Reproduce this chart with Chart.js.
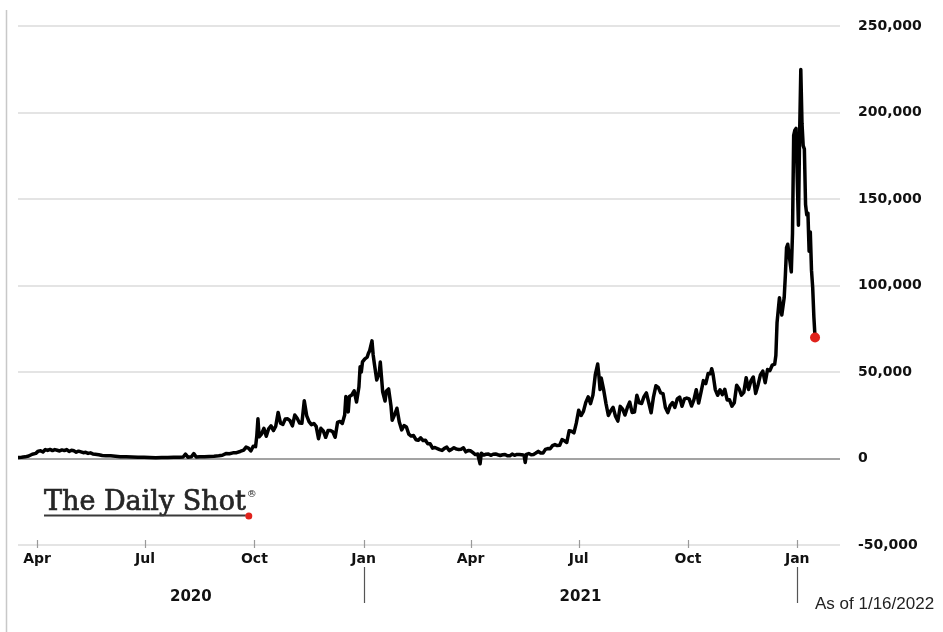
<!DOCTYPE html>
<html><head><meta charset="utf-8">
<script src="https://cdn.jsdelivr.net/npm/chart.js@4.4.1/dist/chart.umd.min.js"></script>
<style>html,body{margin:0;padding:0;background:#fff}#wrap{position:relative;width:943px;height:632px}</style>
</head><body><div id="wrap"><canvas id="c" width="943" height="632"></canvas></div>
<script>
// ---- data (daily new cases, UK) ----
const dates = [
'2020-03-16','2020-03-19','2020-03-22','2020-03-25','2020-03-28','2020-03-31','2020-04-02','2020-04-04','2020-04-06','2020-04-08',
'2020-04-10','2020-04-12','2020-04-14','2020-04-16','2020-04-18','2020-04-20','2020-04-22','2020-04-24','2020-04-26','2020-04-28',
'2020-04-30','2020-05-02','2020-05-04','2020-05-06','2020-05-08','2020-05-10','2020-05-12','2020-05-14','2020-05-16','2020-05-18',
'2020-05-20','2020-05-23','2020-05-26','2020-05-29','2020-06-02','2020-06-06','2020-06-10','2020-06-15','2020-06-20','2020-06-25',
'2020-06-30','2020-07-05','2020-07-10','2020-07-15','2020-07-20','2020-07-25','2020-07-30','2020-08-02','2020-08-04','2020-08-06',
'2020-08-09','2020-08-11','2020-08-13','2020-08-16','2020-08-20','2020-08-24','2020-08-28','2020-09-01','2020-09-04','2020-09-07',
'2020-09-10','2020-09-13','2020-09-16','2020-09-19','2020-09-22','2020-09-24','2020-09-26','2020-09-28','2020-09-30','2020-10-02',
'2020-10-03','2020-10-04','2020-10-05','2020-10-07','2020-10-09','2020-10-11','2020-10-13','2020-10-15','2020-10-17','2020-10-19',
'2020-10-21','2020-10-23','2020-10-25','2020-10-27','2020-10-29','2020-10-31','2020-11-02','2020-11-04','2020-11-06','2020-11-08',
'2020-11-10','2020-11-12','2020-11-14','2020-11-16','2020-11-18','2020-11-20','2020-11-22','2020-11-24','2020-11-26','2020-11-28',
'2020-11-30','2020-12-02','2020-12-04','2020-12-06','2020-12-08','2020-12-10','2020-12-12','2020-12-14','2020-12-16','2020-12-17',
'2020-12-19','2020-12-20','2020-12-22','2020-12-24','2020-12-26','2020-12-28','2020-12-29','2020-12-30','2020-12-31','2021-01-02',
'2021-01-04','2021-01-05','2021-01-06','2021-01-08','2021-01-09','2021-01-10','2021-01-12','2021-01-13','2021-01-14','2021-01-15',
'2021-01-17','2021-01-19','2021-01-20','2021-01-22','2021-01-24','2021-01-25','2021-01-27','2021-01-29','2021-01-31','2021-02-02',
'2021-02-04','2021-02-06','2021-02-08','2021-02-10','2021-02-12','2021-02-14','2021-02-16','2021-02-18','2021-02-20','2021-02-22',
'2021-02-24','2021-02-26','2021-02-28','2021-03-02','2021-03-04','2021-03-06','2021-03-08','2021-03-10','2021-03-12','2021-03-14',
'2021-03-16','2021-03-18','2021-03-20','2021-03-22','2021-03-24','2021-03-26','2021-03-28','2021-03-30','2021-04-01','2021-04-03',
'2021-04-05','2021-04-07','2021-04-09','2021-04-10','2021-04-12','2021-04-14','2021-04-16','2021-04-18','2021-04-20','2021-04-22',
'2021-04-24','2021-04-26','2021-04-28','2021-04-30','2021-05-02','2021-05-04','2021-05-06','2021-05-08','2021-05-10','2021-05-12',
'2021-05-14','2021-05-16','2021-05-17','2021-05-18','2021-05-20','2021-05-22','2021-05-24','2021-05-26','2021-05-28','2021-05-30',
'2021-06-01','2021-06-03','2021-06-05','2021-06-07','2021-06-09','2021-06-11','2021-06-13','2021-06-15','2021-06-17','2021-06-19',
'2021-06-21','2021-06-23','2021-06-25','2021-06-27','2021-06-29','2021-07-01','2021-07-03','2021-07-05','2021-07-07','2021-07-09',
'2021-07-11','2021-07-13','2021-07-15','2021-07-17','2021-07-18','2021-07-19','2021-07-20','2021-07-22','2021-07-24','2021-07-26',
'2021-07-28','2021-07-30','2021-08-01','2021-08-03','2021-08-05','2021-08-07','2021-08-09','2021-08-11','2021-08-13','2021-08-15',
'2021-08-17','2021-08-19','2021-08-21','2021-08-23','2021-08-25','2021-08-27','2021-08-29','2021-08-31','2021-09-02','2021-09-04',
'2021-09-06','2021-09-08','2021-09-10','2021-09-12','2021-09-14','2021-09-16','2021-09-18','2021-09-20','2021-09-22','2021-09-24',
'2021-09-26','2021-09-28','2021-09-30','2021-10-02','2021-10-04','2021-10-06','2021-10-08','2021-10-10','2021-10-12','2021-10-14',
'2021-10-16','2021-10-18','2021-10-20','2021-10-21','2021-10-22','2021-10-24','2021-10-26','2021-10-28','2021-10-30','2021-11-01',
'2021-11-03','2021-11-05','2021-11-07','2021-11-09','2021-11-11','2021-11-13','2021-11-15','2021-11-17','2021-11-19','2021-11-21',
'2021-11-23','2021-11-25','2021-11-27','2021-11-29','2021-12-01','2021-12-03','2021-12-05','2021-12-07','2021-12-09','2021-12-11',
'2021-12-13','2021-12-14','2021-12-15','2021-12-17','2021-12-19','2021-12-21','2021-12-22','2021-12-23','2021-12-24','2021-12-27',
'2021-12-28','2021-12-29','2021-12-30','2021-12-31','2022-01-01','2022-01-02','2022-01-03','2022-01-04','2022-01-05','2022-01-06',
'2022-01-07','2022-01-08','2022-01-09','2022-01-10','2022-01-11','2022-01-12','2022-01-13','2022-01-14','2022-01-15','2022-01-16'
];
const cases = [
600,700,1000,1500,2500,3000,4300,4500,3800,5200,
4700,5300,4600,5200,4800,4400,5000,4600,5200,4100,
4800,4500,3700,4300,3900,3400,3600,3000,3300,2700,
2500,2200,1800,1700,1600,1400,1100,1000,900,800,
700,600,500,600,600,700,800,900,2600,800,
1000,2900,900,1100,1000,1200,1300,1600,1900,2900,
2800,3300,3400,4100,4900,6600,6000,4400,7100,6900,
12900,23000,12600,14200,17500,12900,17200,18900,16200,18800,
26700,20500,19800,22900,23000,21900,18900,25200,23300,20600,
20400,33500,24900,21400,19600,20300,18600,11500,17500,16000,
12300,16200,16300,15500,12300,20900,21500,20300,25200,35900,
27000,35900,36800,39200,32700,41400,53100,50000,55900,57700,
58700,60900,62300,68100,59900,54900,45500,47500,48700,55800,
38600,33300,38900,40300,30400,22200,25300,29100,21100,16600,
19100,18300,14100,13000,13300,10900,10600,12000,10400,10600,
8500,8500,6000,6400,5800,5200,4700,5900,6600,4600,
5300,6300,5500,5300,5400,6200,3900,4700,4500,3400,
2300,2600,-3000,3100,2000,2500,2600,1900,2500,2700,
2200,1800,2200,2400,1600,1600,2600,1900,2400,2300,
2200,1900,-2300,2400,2900,2200,2400,3200,4200,3200,
3200,5300,5800,5700,7500,8100,7500,7700,11000,10300,
9300,16100,15800,14900,20500,27900,24900,27300,32500,35700,
31800,36700,48500,54700,48200,39900,46600,39900,31800,24900,
27700,29600,24500,21700,30200,28600,25200,29600,32700,26700,
26900,36600,32200,31900,35800,38000,32300,26500,35700,42100,
41200,38000,37600,29500,26600,30600,32400,29600,34500,35600,
30300,34500,35000,34500,30400,33900,39800,32100,38500,45100,
43400,49200,49100,52000,49300,39900,36600,39800,37000,40100,
33900,34000,30300,32300,42400,40400,36700,38300,46800,40000,
44900,47200,37700,42600,48400,50600,43900,51500,50900,54100,
54600,59600,78600,93000,83000,93000,106000,122000,124000,108000,
130000,187000,190000,191000,162000,135000,187000,225000,194000,181000,
179000,147000,141000,142000,120000,131000,109000,99000,82000,70000
];
const monthTicks = ['2020-04-01','2020-07-01','2020-10-01','2021-01-01','2021-04-01','2021-07-01','2021-10-01','2022-01-01'];
const monthLabels = ['Apr','Jul','Oct','Jan','Apr','Jul','Oct','Jan'];
const years = ['2020','2021'];
const yearBreaks = ['2021-01-01','2022-01-01'];
const yTicks = [-50000,0,50000,100000,150000,200000,250000];
const axisStart = '2020-03-16', axisEnd = '2022-02-06';
const asOfText = 'As of 1/16/2022';
const logoText = 'The Daily Shot';

const dayNum = s => { const [y,m,d] = s.split('-').map(Number); return Date.UTC(y, m-1, d) / 86400000; };
const points = dates.map((d,i) => ({x: dayNum(d), y: cases[i]}));

const FONT = "'DejaVu Sans', sans-serif";

const extras = {
  id: 'extras',
  afterDraw(chart) {
    const {ctx, chartArea, scales:{x}} = chart;
    ctx.save();
    // left frame line
    ctx.strokeStyle = '#c8c8c8'; ctx.lineWidth = 1.5;
    ctx.beginPath(); ctx.moveTo(6.5, 10); ctx.lineTo(6.5, 632); ctx.stroke();
    // x tick marks straddling the bottom line
    ctx.strokeStyle = '#9a9a9a'; ctx.lineWidth = 1.2;
    monthTicks.forEach(d => {
      const px = Math.round(x.getPixelForValue(dayNum(d))) + 0.5;
      ctx.beginPath(); ctx.moveTo(px, chartArea.bottom - 5); ctx.lineTo(px, chartArea.bottom + 3); ctx.stroke();
    });
    // year separators
    ctx.strokeStyle = '#555'; ctx.lineWidth = 1.2;
    yearBreaks.forEach(d => {
      const px = Math.round(x.getPixelForValue(dayNum(d))) + 0.5;
      ctx.beginPath(); ctx.moveTo(px, 567); ctx.lineTo(px, 603); ctx.stroke();
    });
    // year labels centred in visible span of each year
    ctx.fillStyle = '#111'; ctx.font = "bold 15px " + FONT; ctx.textAlign = 'center'; ctx.textBaseline = 'middle';
    years.forEach(yr => {
      const a = Math.max(x.min, dayNum(yr + '-01-01'));
      const b = Math.min(x.max, dayNum((+yr + 1) + '-01-01'));
      ctx.fillText(yr, x.getPixelForValue((a + b) / 2), 597);
    });
    // as-of note
    ctx.font = "17px 'Liberation Sans Narrow', 'Liberation Sans', sans-serif";
    ctx.textAlign = 'left'; ctx.fillStyle = '#222';
    ctx.fillText(asOfText, 815, 604);
    // logo
    ctx.font = "27px 'DejaVu Serif', serif"; ctx.fillStyle = '#262626'; ctx.textBaseline = 'alphabetic';
    ctx.strokeStyle = '#262626'; ctx.lineWidth = 0.7;
    ctx.fillText(logoText, 44, 510);
    ctx.strokeText(logoText, 44, 510);
    const w = ctx.measureText(logoText).width;
    ctx.font = "10px 'DejaVu Serif', serif";
    ctx.fillText('®', 44 + w + 1, 497);
    ctx.strokeStyle = '#3a3a3a'; ctx.lineWidth = 2;
    ctx.beginPath(); ctx.moveTo(44, 515.5); ctx.lineTo(44 + w, 515.5); ctx.stroke();
    ctx.fillStyle = '#e0221c';
    ctx.beginPath(); ctx.arc(44 + w + 3, 516, 3.5, 0, Math.PI * 2); ctx.fill();
    ctx.restore();
  }
};

new Chart(document.getElementById('c'), {
  type: 'line',
  data: { datasets: [{
    data: points,
    borderColor: '#000', borderWidth: 3.5, tension: 0, borderJoinStyle: 'round',
    pointRadius: ctx => ctx.dataIndex === cases.length - 1 ? 5 : 0,
    pointBackgroundColor: '#e0221c', pointBorderColor: '#e0221c', pointBorderWidth: 0,
    fill: false
  }]},
  options: {
    responsive: false, animation: false, events: [],
    layout: { padding: { left: 18, top: 24, right: 0, bottom: 0 } },
    plugins: { legend: { display: false }, tooltip: { enabled: false } },
    scales: {
      x: {
        type: 'linear', min: dayNum(axisStart), max: dayNum(axisEnd),
        afterBuildTicks: s => { s.ticks = monthTicks.map(d => ({ value: dayNum(d) })); },
        afterFit: s => { s.height = 87; },
        ticks: {
          autoSkip: false, maxRotation: 0, padding: 6, color: '#111',
          font: { family: FONT, weight: 'bold', size: 14 },
          callback: v => monthLabels[monthTicks.findIndex(d => dayNum(d) === v)]
        },
        grid: { drawOnChartArea: false, drawTicks: false },
        border: { display: false }
      },
      y: {
        position: 'right', min: -50000, max: 250000,
        afterBuildTicks: s => { s.ticks = yTicks.map(v => ({ value: v })); },
        afterFit: s => { s.width = 103; },
        ticks: {
          padding: 18, color: '#111',
          font: { family: FONT, weight: 'bold', size: 14 },
          callback: v => v.toLocaleString('en-US')
        },
        grid: {
          drawTicks: false,
          color: c => c.tick && c.tick.value === 0 ? '#a3a3a3' : '#e4e4e4',
          lineWidth: 2
        },
        border: { display: false }
      }
    }
  },
  plugins: [extras]
});
</script>
</body></html>
